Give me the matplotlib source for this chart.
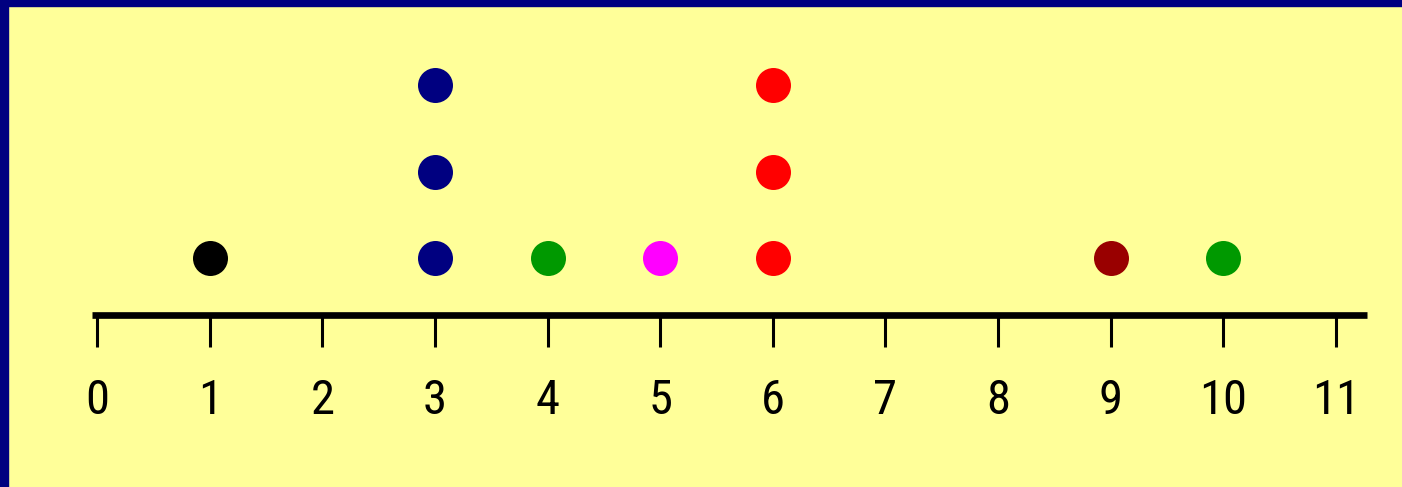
import matplotlib
matplotlib.use("Agg")
import matplotlib.pyplot as plt
from matplotlib.patches import Rectangle

VALUES = [1, 3, 4, 5, 6, 9, 10]
COUNTS = [1, 3, 1, 1, 3, 1, 1]
COLORS = ["#000000", "#000080", "#009900", "#FF00FF", "#FF0000", "#990000", "#009900"]
TICKS = list(range(0, 12))

BG = "#FFFF99"
BORDER = "#000080"

W, H = 1402, 487
LABEL_FONT = ["Roboto Condensed", "Liberation Sans Narrow", "Liberation Sans", "DejaVu Sans"]


def main():
    fig = plt.figure(figsize=(W / 100, H / 100), dpi=100)
    fig.patch.set_facecolor(BG)
    ax = fig.add_axes([0, 0, 1, 1])
    ax.set_facecolor(BG)
    ax.axis("off")

    # pixel-to-data mapping: tick 0 at x=97, tick 11 at x=1336
    px_unit = (1336 - 97) / 11
    ax.set_xlim(-97 / px_unit, (W - 97) / px_unit)
    # dot levels: 1 at y=258, spacing 86.5 px
    py_unit = 86.5
    ax.set_ylim(1 - (H - 258) / py_unit, 1 + 258 / py_unit)

    # stacked dots
    for value, count, color in zip(VALUES, COUNTS, COLORS):
        ax.scatter([value] * count, range(1, count + 1), s=635, color=color,
                   linewidths=0, zorder=3)

    # number line
    line_y = 1 - (315 - 258) / py_unit
    tick_bottom = 1 - (347 - 258) / py_unit
    label_y = 1 - (396 - 258) / py_unit
    ax.plot([TICKS[0] - 5 / px_unit, TICKS[-1] + 31 / px_unit], [line_y, line_y],
            color="black", linewidth=4.8, solid_capstyle="butt")
    ax.vlines(TICKS, tick_bottom, line_y, color="black", linewidth=2.2)
    for t in TICKS:
        ax.text(t, label_y, str(t), ha="center", va="center_baseline", fontsize=35,
                family=LABEL_FONT, color="black")

    # navy frame on top and left
    fig.patches.append(Rectangle((0, 1 - 6 / H), 1, 6 / H, transform=fig.transFigure,
                                 color=BORDER, zorder=10))
    fig.patches.append(Rectangle((0, 0), 8 / W, 1, transform=fig.transFigure,
                                 color=BORDER, zorder=10))

    fig.savefig("out.png", dpi=100, facecolor=BG)
    plt.close(fig)


if __name__ == "__main__":
    main()
